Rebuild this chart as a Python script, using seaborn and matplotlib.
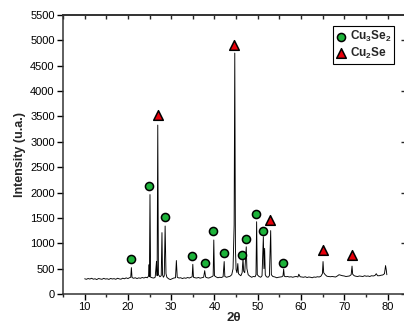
import pandas as pd
import matplotlib
matplotlib.use("Agg")
import matplotlib.pyplot as plt
from matplotlib.ticker import MultipleLocator
import seaborn as sns

sns.set_theme(style="ticks")
plt.rcParams["font.family"] = ["Liberation Sans", "DejaVu Sans"]
plt.rcParams["mathtext.default"] = "regular"

# XRD profile (2theta in degrees, intensity in u.a.)
two_theta = [
    10.0, 10.4, 10.8, 11.2, 11.6, 12.0, 12.4, 12.8, 13.2, 13.6, 14.0, 14.4, 14.8,
    15.2, 15.6, 16.0, 16.4, 16.8, 17.2, 17.6, 18.0, 18.4, 18.8, 19.2, 19.6, 20.0,
    20.4, 20.65, 20.8, 20.95, 21.3, 21.7, 22.1, 22.5, 22.9, 23.3, 23.7, 24.1, 24.5,
    24.8, 24.9, 24.97, 25.1, 25.25, 25.6, 26.0, 26.3, 26.6, 26.75, 26.9, 27.05,
    27.4, 27.7, 27.87, 28.0, 28.2, 28.4, 28.6, 28.8, 29.0, 29.4, 29.8, 30.2, 30.6,
    31.0, 31.2, 31.4, 31.8, 32.2, 32.6, 33.0, 33.4, 33.8, 34.2, 34.6, 34.85, 35.0,
    35.15, 35.5, 35.9, 36.3, 36.7, 37.1, 37.5, 37.75, 37.95, 38.3, 38.7, 39.1,
    39.5, 39.7, 39.85, 40.0, 40.4, 40.8, 41.2, 41.6, 42.0, 42.25, 42.4, 42.8, 43.2,
    43.6, 44.0, 44.3, 44.55, 44.7, 44.85, 45.0, 45.2, 45.4, 45.55, 45.8, 46.1,
    46.4, 46.6, 46.75, 47.0, 47.35, 47.5, 47.8, 48.2, 48.6, 49.0, 49.4, 49.6,
    49.75, 49.9, 50.3, 50.7, 51.0, 51.3, 51.45, 51.6, 51.75, 52.0, 52.4, 52.7,
    53.0, 53.15, 53.5, 54.0, 54.4, 54.8, 55.2, 55.6, 55.85, 56.0, 56.15, 56.5,
    56.9, 57.3, 57.7, 58.1, 58.5, 58.9, 59.3, 59.5, 59.8, 60.2, 60.6, 61.0, 61.4,
    61.8, 62.2, 62.6, 63.0, 63.4, 63.8, 64.2, 64.6, 64.95, 65.1, 65.25, 65.6,
    66.0, 66.4, 66.8, 67.2, 67.6, 68.0, 68.4, 68.8, 69.2, 69.6, 70.0, 70.4, 70.8,
    71.2, 71.6, 71.8, 71.95, 72.3, 72.7, 73.1, 73.5, 73.9, 74.3, 74.7, 75.1,
    75.5, 75.9, 76.3, 76.7, 77.1, 77.4, 77.7, 78.1, 78.5, 78.9, 79.3, 79.55,
    79.7, 79.85,
]
intensity = [
    300, 290, 305, 295, 310, 292, 300, 285, 305, 298, 290, 308, 295,
    300, 288, 306, 296, 302, 290, 310, 298, 292, 312, 300, 318, 305,
    322, 330, 520, 325, 310, 320, 305, 318, 310, 325, 315, 330, 320,
    360, 580, 340, 1960, 330, 320, 315, 330, 640, 360, 3330, 380,
    340, 360, 1210, 380, 330, 360, 1340, 400, 330, 300, 285, 300, 315,
    320, 660, 330, 315, 320, 305, 318, 310, 325, 315, 330, 340, 585,
    330, 320, 315, 325, 312, 320, 330, 460, 335, 320, 315, 330,
    345, 360, 1065, 360, 335, 320, 330, 325, 340, 640, 345, 330, 340,
    350, 380, 500, 1360, 4750, 900, 480, 420, 600, 400, 380, 360,
    420, 700, 450, 420, 930, 500, 380, 350, 330, 345, 340, 380,
    1425, 380, 345, 330, 360, 1130, 500, 900, 380, 340, 330, 360,
    1250, 380, 345, 335, 320, 330, 335, 340, 360, 490, 350, 340,
    345, 335, 340, 330, 340, 345, 335, 390, 340, 335, 330, 340, 325,
    335, 330, 320, 335, 330, 340, 335, 350, 400, 640, 420, 380,
    350, 345, 340, 345, 340, 335, 355, 380, 370, 360, 355, 345, 350,
    355, 380, 550, 390, 360, 350, 345, 355, 350, 345, 360, 350,
    355, 345, 360, 355, 365, 400, 360, 360, 370, 375, 400, 560,
    480, 380,
]

# phase markers
cu3se2_x = [20.6, 24.9, 28.6, 34.9, 37.8, 39.7, 42.1, 46.4, 47.4, 49.6, 51.2, 55.9]
cu3se2_y = [690, 2130, 1510, 745, 620, 1235, 810, 770, 1080, 1570, 1250, 620]
cu2se_x = [26.85, 44.6, 52.85, 65.05, 71.75]
cu2se_y = [3530, 4910, 1450, 860, 760]

xrd = pd.DataFrame({"two_theta": two_theta, "intensity": intensity})

fig = plt.figure(figsize=(4.04, 3.24), dpi=100)
ax = fig.add_axes([0.156, 0.0926, 0.846, 0.861])

sns.lineplot(data=xrd, x="two_theta", y="intensity", color="black",
             linewidth=0.65, estimator=None, ax=ax)
sns.scatterplot(x=cu3se2_x, y=cu3se2_y, marker="o", s=34, color="#1db33a",
                edgecolor="black", linewidth=1.1, zorder=5, ax=ax,
                label="Cu$_3$Se$_2$")
sns.scatterplot(x=cu2se_x, y=cu2se_y, marker="^", s=48, color="#e8000b",
                edgecolor="black", linewidth=1.1, zorder=5, ax=ax,
                label="Cu$_2$Se")

ax.set_xlim(5, 84)
ax.set_ylim(0, 5500)
ax.xaxis.set_major_locator(MultipleLocator(10))
ax.xaxis.set_minor_locator(MultipleLocator(5))
ax.yaxis.set_major_locator(MultipleLocator(500))
ax.tick_params(axis="both", which="major", direction="out", length=4, width=1,
               labelsize=8, pad=2, color="black", labelcolor="black")
ax.tick_params(axis="x", which="minor", direction="out", length=2.5, width=1)

for sp in ax.spines.values():
    sp.set_linewidth(1.1)
    sp.set_color("#333333")

top = ax.secondary_xaxis("top")
top.xaxis.set_major_locator(MultipleLocator(5))
top.tick_params(direction="in", length=3, width=1, labeltop=False)
right = ax.secondary_yaxis("right")
right.yaxis.set_major_locator(MultipleLocator(1000))
right.tick_params(direction="in", length=3, width=1, labelright=False)

ax.set_ylabel("Intensity (u.a.)", fontsize=9, fontweight="bold", labelpad=3)
ax.set_xlabel("2θ", fontsize=9.5, fontweight="bold", labelpad=0)

leg = ax.legend(loc="upper right", frameon=True, fancybox=False,
                handletextpad=0.2, borderpad=0.25, labelspacing=0.15,
                handlelength=1.0, borderaxespad=0.9,
                prop={"weight": "bold", "size": 8.5})
leg.get_frame().set_edgecolor("black")
leg.get_frame().set_linewidth(0.8)
leg.get_frame().set_alpha(1)

fig.savefig("out.png", dpi=100)
plt.close(fig)
